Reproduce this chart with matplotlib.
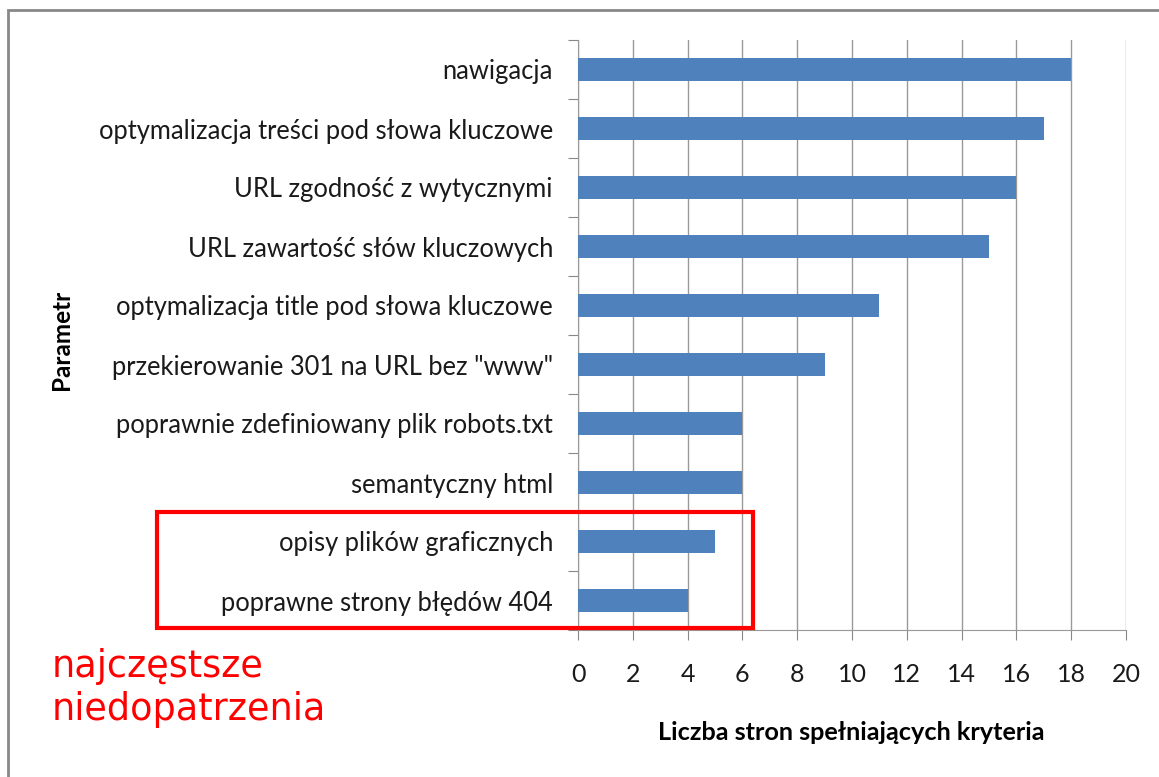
import matplotlib.pyplot as plt
from matplotlib.patches import Rectangle

# Data
categories = [
    'nawigacja',
    'optymalizacja treści pod słowa kluczowe',
    'URL zgodność z wytycznymi',
    'URL zawartość słów kluczowych',
    'optymalizacja title pod słowa kluczowe',
    'przekierowanie 301 na URL bez "www"',
    'poprawnie zdefiniowany plik robots.txt',
    'semantyczny html',
    'opisy plików graficznych',
    'poprawne strony błędów 404',
]
values = [18, 17, 16, 15, 11, 9, 6, 6, 5, 4]
x_ticks = list(range(0, 21, 2))

W, H = 1159, 777
fig = plt.figure(figsize=(W / 100, H / 100), dpi=100)
ax = fig.add_axes([578 / W, 1 - 630 / H, (1126 - 578) / W, (630 - 40) / H])

pos = list(range(len(categories)))
ax.barh(pos, values, height=0.4, color='#4F81BD', zorder=3)
ax.set_ylim(len(categories) - 0.5, -0.5)
ax.set_xlim(0, 20)
ax.set_xticks(x_ticks)

# category labels between boundary ticks
ax.set_yticks([p - 0.5 for p in pos] + [len(categories) - 0.5])
ax.set_yticklabels([])
ax.set_yticks(pos, minor=True)
ax.set_yticklabels(categories, minor=True, fontsize=18.4, family='Lato', color='#1a1a1a')
ax.tick_params(axis='y', which='minor', length=0, pad=18)
ax.tick_params(axis='y', which='major', length=7, color='#888888', direction='out')
ax.tick_params(axis='x', length=7, color='#888888', labelsize=18, pad=17, labelcolor='#1a1a1a')
for lbl in ax.get_xticklabels():
    lbl.set_family('Lato')

ax.grid(axis='x', color='#999999', linewidth=1, zorder=0)
for s in ['top', 'right']:
    ax.spines[s].set_visible(False)
for s in ['left', 'bottom']:
    ax.spines[s].set_color('#999999')

fig.text(851 / W, 1 - 733 / H, 'Liczba stron spełniających kryteria', ha='center', va='center',
         fontsize=18.2, fontweight='bold', family='Lato')
fig.text(62 / W, 1 - 340 / H, 'Parametr', ha='center', va='center', rotation=90,
         fontsize=17.5, fontweight='bold', family='Lato')

# outer frame
fig.patches.append(Rectangle((8 / W, -0.1), 1.2, 1.1 - 10 / H, transform=fig.transFigure,
                             fill=False, edgecolor='#888888', linewidth=2))

# red highlight
fig.patches.append(Rectangle((157 / W, 1 - 628 / H), (753 - 157) / W, (628 - 512) / H,
                             transform=fig.transFigure, fill=False, edgecolor='red', linewidth=3, zorder=5))
fig.text(52 / W, 1 - 648 / H, 'najczęstsze\nniedopatrzenia', ha='left', va='top', color='red',
         fontsize=26.3, linespacing=1.2)

fig.savefig('out.png', dpi=100)
